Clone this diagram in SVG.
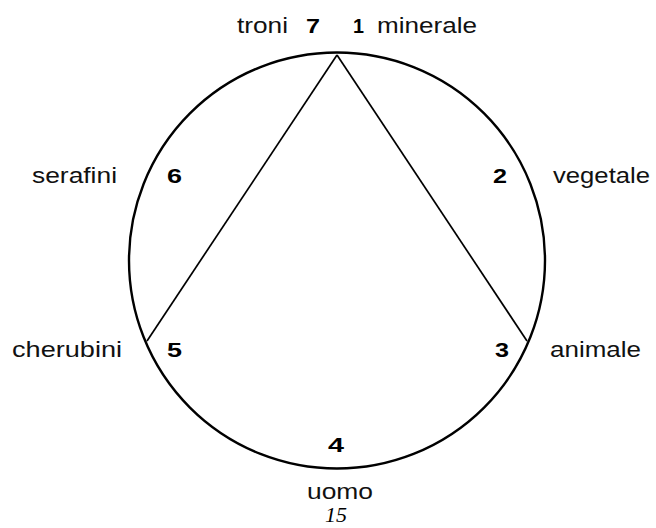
<svg xmlns="http://www.w3.org/2000/svg" width="656" height="528" viewBox="0 0 656 528">
<style>
.lbl{font-family:"Liberation Sans",Arial,sans-serif;font-size:22px;fill:#111}
.num{font-family:"Liberation Sans",Arial,sans-serif;font-size:21px;font-weight:bold;fill:#000}
.cap{font-family:"Liberation Serif","Times New Roman",serif;font-size:20px;font-style:italic;fill:#000}
.edge{stroke:#000;stroke-width:1.7;fill:none}
</style>
<rect width="656" height="528" fill="#fff"/>
<g id="circle"><circle cx="337" cy="260.5" r="208" fill="none" stroke="#000" stroke-width="2.4"/></g>
<g id="connectors">
<line class="edge" x1="337" y1="55" x2="147" y2="341"/>
<line class="edge" x1="337" y1="55" x2="527" y2="341"/>
</g>
<g id="n1"><text class="num" x="353" y="33" textLength="11" lengthAdjust="spacingAndGlyphs">1</text><text class="lbl" x="377" y="33" textLength="100" lengthAdjust="spacingAndGlyphs">minerale</text></g>
<g id="n2"><text class="num" x="493" y="183" textLength="14" lengthAdjust="spacingAndGlyphs">2</text><text class="lbl" x="553" y="183" textLength="97" lengthAdjust="spacingAndGlyphs">vegetale</text></g>
<g id="n3"><text class="num" x="495" y="357" textLength="14" lengthAdjust="spacingAndGlyphs">3</text><text class="lbl" x="550" y="357" textLength="91" lengthAdjust="spacingAndGlyphs">animale</text></g>
<g id="n4"><text class="num" x="328" y="452" textLength="16" lengthAdjust="spacingAndGlyphs">4</text><text class="lbl" x="307" y="499" textLength="66" lengthAdjust="spacingAndGlyphs">uomo</text></g>
<g id="n5"><text class="num" x="167" y="357" textLength="15" lengthAdjust="spacingAndGlyphs">5</text><text class="lbl" x="12" y="357" textLength="110" lengthAdjust="spacingAndGlyphs">cherubini</text></g>
<g id="n6"><text class="num" x="167" y="183" textLength="15" lengthAdjust="spacingAndGlyphs">6</text><text class="lbl" x="32" y="183" textLength="85" lengthAdjust="spacingAndGlyphs">serafini</text></g>
<g id="n7"><text class="num" x="306" y="33" textLength="14" lengthAdjust="spacingAndGlyphs">7</text><text class="lbl" x="237" y="33" textLength="51" lengthAdjust="spacingAndGlyphs">troni</text></g>
<text class="cap" x="325" y="522" textLength="22" lengthAdjust="spacingAndGlyphs">15</text>
</svg>
